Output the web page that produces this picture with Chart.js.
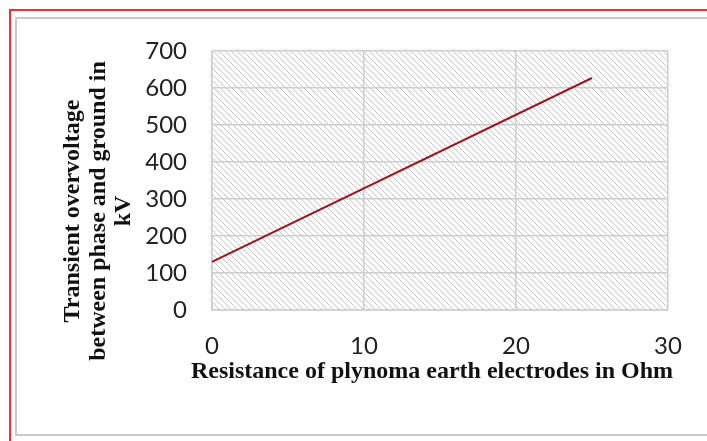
<!DOCTYPE html>
<html>
<head>
<meta charset="utf-8">
<script src="https://cdn.jsdelivr.net/npm/chart.js@4"></script>
<style>
  html, body { margin: 0; padding: 0; background: #fff; }
  #wrap { position: relative; width: 707px; height: 441px; overflow: hidden; }
  .ln { position: absolute; }
  #chart { position: absolute; left: 0; top: 0; }
</style>
</head>
<body>
<div id="wrap">
  <!-- red frame (top + left) -->
  <div class="ln" style="left:9px; top:9px; width:700px; height:2px; background:#ff2a2a;"></div>
  <div class="ln" style="left:9px; top:9px; width:2px; height:440px; background:#ff2a2a;"></div>
  <!-- grey chart frame -->
  <div class="ln" style="left:15px; top:17px; width:700px; height:2px; background:#c9c9c9;"></div>
  <div class="ln" style="left:15px; top:17px; width:2px; height:419px; background:#c9c9c9;"></div>
  <div class="ln" style="left:15px; top:434px; width:700px; height:2px; background:#c9c9c9;"></div>
  <canvas id="chart" width="707" height="441"></canvas>
</div>
<script>
// Dados
const resistance = [0, 25];          // Ohm
const overvoltage = [130, 627];      // kV
const xTickValues = [0, 10, 20, 30];
const yTickValues = [0, 100, 200, 300, 400, 500, 600, 700];

const xTitle = 'Resistance of plynoma earth electrodes in Ohm';
const yTitle = ['Transient overvoltage', 'between phase and ground in', 'kV'];

// padrão hachurado do fundo da área do gráfico
function makeHatch() {
    const c = document.createElement('canvas');
    const s = 6;
    c.width = s; c.height = s;
    const g = c.getContext('2d');
    g.fillStyle = '#ffffff';
    g.fillRect(0, 0, s, s);
    g.strokeStyle = '#c6c6c6';
    g.lineWidth = 1;
    for (const o of [-s, 0, s]) {
        g.beginPath();
        g.moveTo(o, 0);
        g.lineTo(o + s, s);
        g.stroke();
    }
    return g.createPattern(c, 'repeat');
}

const hatchPlugin = {
    id: 'hatch',
    beforeDraw(chart) {
        const { ctx, chartArea: a } = chart;
        ctx.save();
        ctx.fillStyle = makeHatch();
        ctx.fillRect(a.left, a.top, a.right - a.left, a.bottom - a.top);
        ctx.restore();
    }
};

// títulos dos eixos (posição igual à do original)
const titlePlugin = {
    id: 'axisTitles',
    afterDraw(chart) {
        const ctx = chart.ctx;
        ctx.save();
        ctx.fillStyle = '#111';
        ctx.font = 'bold 24px "Liberation Serif", "Times New Roman", serif';
        ctx.textAlign = 'center';
        ctx.textBaseline = 'alphabetic';
        ctx.fillText(xTitle, 432, 378);

        const baselines = [79, 104.5, 130];
        yTitle.forEach((line, i) => {
            ctx.save();
            ctx.translate(baselines[i], 211);
            ctx.rotate(-Math.PI / 2);
            ctx.fillText(line, 0, 0);
            ctx.restore();
        });
        ctx.restore();
    }
};

const gridColor = '#cdcdcd';
const tickFont = { family: 'Lato', size: 24 };

new Chart(document.getElementById('chart'), {
    type: 'scatter',
    data: {
        datasets: [{
            data: resistance.map((x, i) => ({ x, y: overvoltage[i] })),
            showLine: true,
            borderColor: '#9b1722',
            borderWidth: 2,
            pointRadius: 0,
            fill: false
        }]
    },
    options: {
        responsive: false,
        animation: false,
        layout: { padding: { top: 51, right: 39, left: 0, bottom: 0 } },
        plugins: { legend: { display: false }, tooltip: { enabled: false } },
        scales: {
            x: {
                type: 'linear',
                min: 0,
                max: 30,
                afterBuildTicks: s => { s.ticks = xTickValues.map(v => ({ value: v })); },
                afterFit: s => { s.height = 131; },
                ticks: { font: tickFont, color: '#222', padding: 22, maxRotation: 0 },
                grid: { color: gridColor, lineWidth: 1.5, drawTicks: false },
                border: { color: gridColor, width: 1.5 }
            },
            y: {
                type: 'linear',
                min: 0,
                max: 700,
                afterBuildTicks: s => { s.ticks = yTickValues.map(v => ({ value: v })); },
                afterFit: s => { s.width = 212; },
                ticks: { font: tickFont, color: '#222', padding: 25 },
                grid: { color: gridColor, lineWidth: 1.5, drawTicks: false },
                border: { color: gridColor, width: 1.5 }
            }
        }
    },
    plugins: [hatchPlugin, titlePlugin]
});
</script>
</body>
</html>
